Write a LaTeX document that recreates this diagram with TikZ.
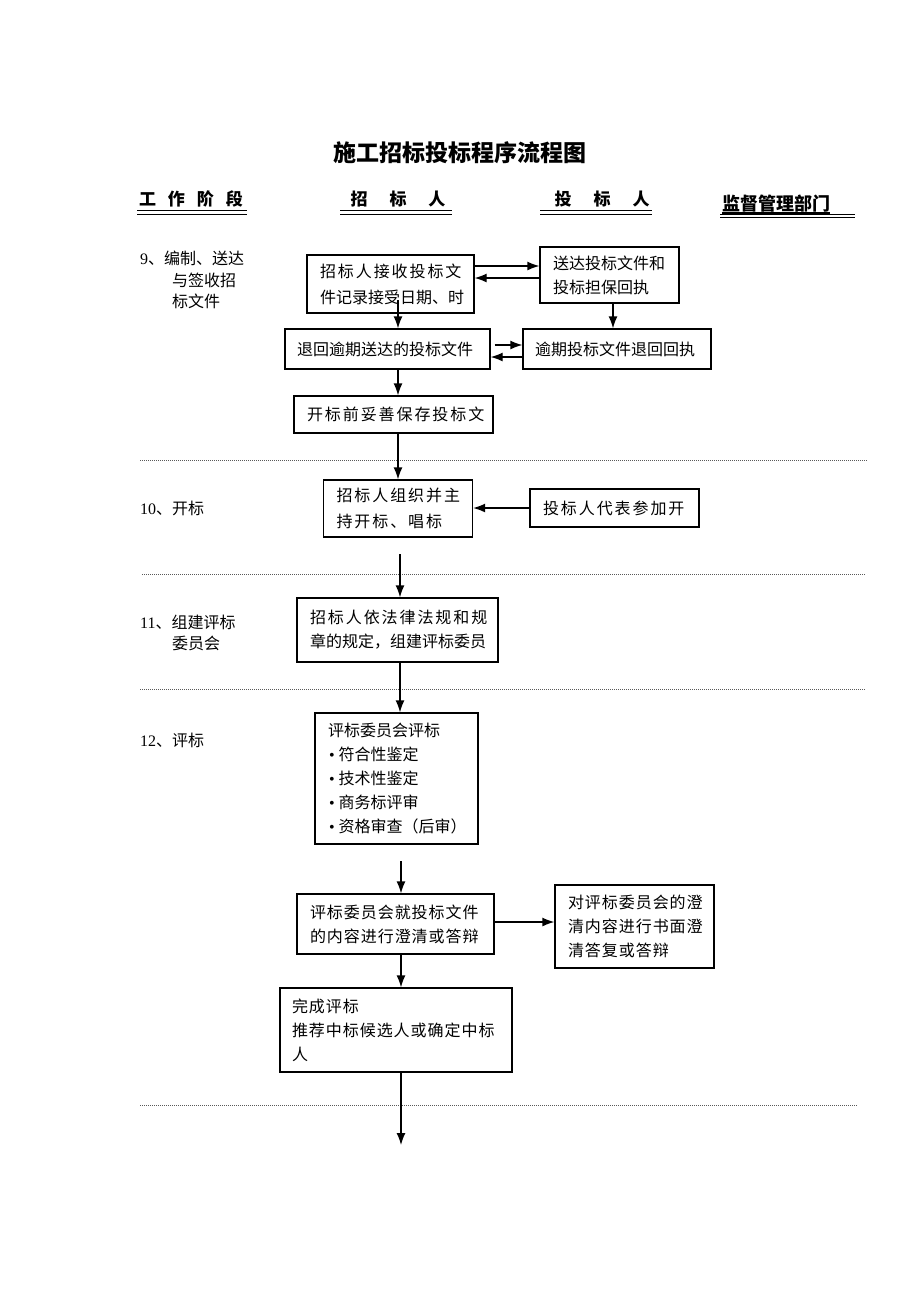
\documentclass[tikz,border=0pt]{standalone}
\usepackage{fontspec}
\setmainfont{Liberation Serif}
\newfontfamily\cjk{Noto Sans CJK SC}
\newfontfamily\cjkw[LetterSpace=12]{Noto Sans CJK SC}
\newfontfamily\cjkm[LetterSpace=6]{Noto Sans CJK SC}
\usetikzlibrary{arrows.meta}
\tikzset{box/.style = {draw, line width = 1.3pt, inner xsep = 13pt, inner ysep = 0pt, align = left, font = \cjk\fontsize{16}{24}\selectfont}}
\tikzset{edge/.style = {->, > = {Latex[length = 12pt, width = 9pt]}, line width = 1.3pt}}
\tikzset{stage/.style = {anchor = base west, inner sep = 0pt, font = \fontsize{16}{22}\selectfont}}
\tikzset{head/.style = {inner sep = 0pt, font = \cjk\bfseries\fontsize{17}{20}\selectfont}}
\tikzset{sep/.style = {black!65, line width = 1pt, dash pattern = on 1pt off 1pt}}
\tikzset{uline/.style = {line width = 1.6pt}}
\newcommand{\bul}{\hspace*{4pt}{\rmfamily\textbullet}\hspace*{4pt}}

\begin{document}
\begin{tikzpicture}[x = 1pt, y = -1pt]
			\useasboundingbox (0, 0) rectangle (920, 1302);

			% title and column heads
			\node[inner sep = 0pt, font = \cjk\bfseries\fontsize{23}{26}\selectfont] (title) at (460, 153) {施工招标投标程序流程图};
			\node[head] (h1) at (191, 199) {工\hspace{12pt}作\hspace{12pt}阶\hspace{12pt}段};
			\node[head] (h2) at (398, 199) {招\hspace{22pt}标\hspace{22pt}人};
			\node[head] (h3) at (602, 199) {投\hspace{22pt}标\hspace{22pt}人};
			\node[head, font = \cjk\bfseries\fontsize{18}{20}\selectfont] (h4) at (776, 204) {监督管理部门};
			\draw[uline] (137, 210.5) -- (247, 210.5);
			\draw[uline] (137, 214.5) -- (247, 214.5);
			\draw[uline] (340, 210.5) -- (452, 210.5);
			\draw[uline] (340, 214.5) -- (452, 214.5);
			\draw[uline] (540, 210.5) -- (652, 210.5);
			\draw[uline] (540, 214.5) -- (652, 214.5);
			\draw[line width = 1.2pt] (722, 213) -- (830, 213);
			\draw[uline] (720, 214.5) -- (855, 214.5);
			\draw[line width = 1pt] (720, 217.5) -- (855, 217.5);

			% stage labels
			\node[stage] (s9a) at (140, 264) {9{\cjk 、编制、送达}};
			\node[stage] (s9b) at (172, 286) {\cjk 与签收招};
			\node[stage] (s9c) at (172, 307) {\cjk 标文件};
			\node[stage] (s10) at (140, 514) {10{\cjk 、开标}};
			\node[stage] (s11a) at (140, 628) {11{\cjk 、组建评标}};
			\node[stage] (s11b) at (172, 649) {\cjk 委员会};
			\node[stage] (s12) at (140, 746) {12{\cjk 、评标}};

			% separators
			\draw[sep] (140, 460) -- (868, 460);
			\draw[sep] (142, 574) -- (866, 574);
			\draw[sep] (140, 689) -- (866, 689);
			\draw[sep] (140, 1105) -- (858, 1105);

			% boxes
			\node[box, text width = 141pt, minimum height = 58pt, font = \cjk\fontsize{16}{26}\selectfont] (a) at (390.5, 284) {{\cjkw 招标人接收投标文}\\件记录接受日期、时};
			\node[box, text width = 113pt, minimum height = 56pt] (b) at (609.5, 275) {送达投标文件和\\投标担保回执};
			\node[box, text width = 181pt, minimum height = 40pt, inner xsep = 12pt] (c) at (387.5, 349) {退回逾期送达的投标文件};
			\node[box, text width = 164pt, minimum height = 40pt, inner xsep = 12pt] (d) at (617, 349) {逾期投标文件退回回执};
			\node[box, text width = 173pt, minimum height = 37pt, font = \cjkw\fontsize{16}{24}\selectfont] (e) at (393.5, 414.5) {开标前妥善保存投标文};
			\node[box, text width = 123pt, minimum height = 57pt, font = \cjkw\fontsize{16}{26}\selectfont] (f) at (398, 508.5) {招标人组织并主\\持开标、唱标};
			\node[box, text width = 143pt, minimum height = 38pt, font = \cjkw\fontsize{16}{24}\selectfont] (g) at (614.5, 508) {投标人代表参加开};
			\node[box, text width = 175pt, minimum height = 64pt, font = \cjk\fontsize{16}{24}\selectfont] (h) at (397.5, 630) {{\cjkw 招标人依法律法规和规}\\章的规定，组建评标委员};
			\node[box, text width = 143pt, minimum height = 131pt, inner xsep = 10pt, font = \cjk\fontsize{16}{24}\selectfont] (i) at (396.5, 778.5) {\hspace*{3pt}评标委员会评标\\
				\bul 符合性鉴定\\
				\bul 技术性鉴定\\
				\bul 商务标评审\\
				\bul 资格审查（后审）};
			\node[box, text width = 171pt, minimum height = 60pt, font = \cjkm\fontsize{16}{24}\selectfont] (j) at (395.5, 924) {评标委员会就投标文件\\的内容进行澄清或答辩};
			\node[box, text width = 133pt, minimum height = 83pt, font = \cjkm\fontsize{16}{24}\selectfont] (k) at (634.5, 926.5) {对评标委员会的澄\\清内容进行书面澄\\清答复或答辩};
			\node[box, text width = 208pt, minimum height = 84pt, inner xsep = 12pt, font = \cjkm\fontsize{16}{24}\selectfont] (l) at (396, 1030) {完成评标\\推荐中标候选人或确定中标\\人};

			% free arrow ends
			\coordinate (a1) at (398, 300);
			\coordinate (f1) at (400, 554);
			\coordinate (i1) at (401, 861);
			\coordinate (end) at (401, 1145);

			\draw[edge] ([yshift = 18pt]a.east) to ([yshift = 18pt]a.east -| b.west);
			\draw[edge] ([yshift = 6pt]a.east -| b.west) to ([yshift = 6pt]a.east);
			\draw[edge] (a1) to (a1 |- c.north);
			\draw[edge] ([xshift = 3.5pt]b.south) to ([xshift = 3.5pt]b.south |- d.north);
			\draw[edge] ([xshift = 4pt, yshift = 4pt]c.east) to ([yshift = 4pt]c.east -| d.west);
			\draw[edge] ([yshift = -8pt]c.east -| d.west) to ([yshift = -8pt]c.east);
			\draw[edge] ([xshift = 10.5pt]c.south) to ([xshift = 10.5pt]c.south |- e.north);
			\draw[edge] (e.south -| f.north) to (f.north);
			\draw[edge] (g.west) to (g.west -| f.east);
			\draw[edge] (f1) to (f1 |- h.north);
			\draw[edge] ([xshift = 2.5pt]h.south) to ([xshift = 2.5pt]h.south |- i.north);
			\draw[edge] (i1) to (i1 |- j.north);
			\draw[edge] ([yshift = 2pt]j.east) to ([yshift = 2pt]j.east -| k.west);
			\draw[edge] ([xshift = 5.5pt]j.south) to ([xshift = 5.5pt]j.south |- l.north);
			\draw[edge] (l.south -| end) to (end);
		\end{tikzpicture}
\end{document}
